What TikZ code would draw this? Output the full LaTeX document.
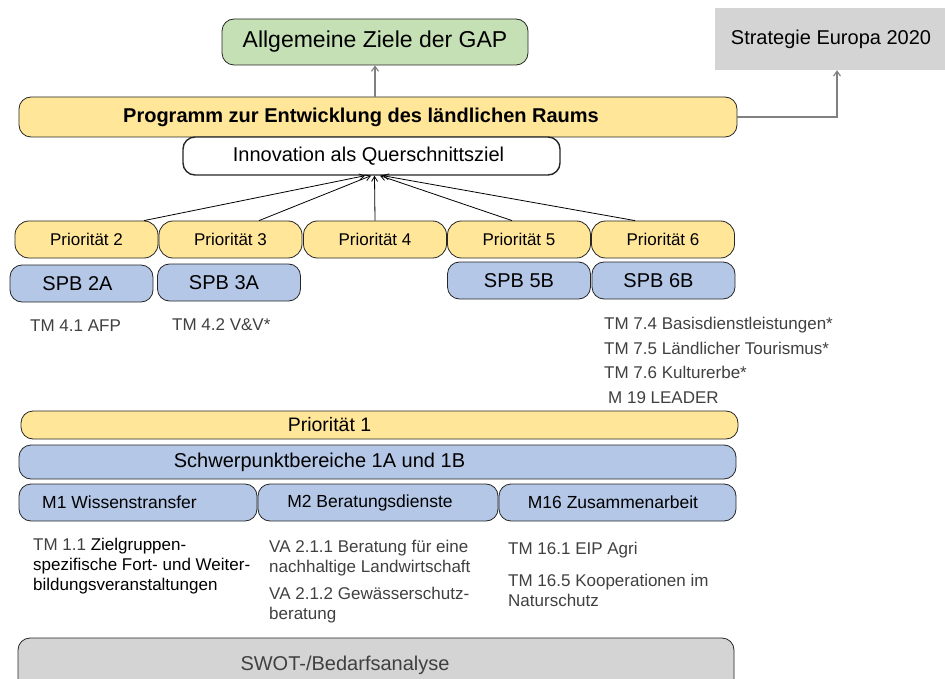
\documentclass[tikz,border=0pt]{standalone}
\usepackage{fontspec}
\setmainfont{Liberation Sans}
\usetikzlibrary{arrows.meta}
\definecolor{gapgreen}{HTML}{C5E0B4}
\definecolor{prioyellow}{HTML}{FFE699}
\definecolor{spbblue}{HTML}{B4C7E7}
\definecolor{swotgray}{HTML}{D4D4D4}
\definecolor{tmgray}{HTML}{404040}
\definecolor{linegray}{HTML}{808080}

\begin{document}
\begin{tikzpicture}[x=1pt,y=-1pt,
		box/.style={draw=black!85,line width=0.8pt,rounded corners=12pt,inner sep=0pt,text=black},
		prio/.style={box,fill=prioyellow,minimum width=143pt,minimum height=37pt,rounded corners=14pt,font=\fontsize{17}{20}\selectfont},
		spb/.style={box,fill=spbblue,minimum width=143pt,minimum height=37pt,font=\fontsize{20}{24}\selectfont},
		massn/.style={box,fill=spbblue,minimum height=37pt,font=\fontsize{17.5}{21}\selectfont},
		tm/.style={anchor=north west,inner sep=0pt,align=left,text=tmgray,font=\fontsize{17}{20}\selectfont},
		pfeil/.style={-{Straight Barb[length=5pt,width=7pt]},line width=1.1pt,linegray},
		zpfeil/.style={-{Straight Barb[length=5pt,width=6pt]},line width=0.8pt,black}]
				\useasboundingbox (0,0) rectangle (945,679);
				\node[box,fill=gapgreen,minimum width=306pt,minimum height=46pt,font=\fontsize{23}{27}\selectfont] (gap) at (375,42) {Allgemeine Ziele der GAP};
				\node[fill=swotgray,inner sep=0pt,minimum width=232pt,minimum height=62pt,font=\fontsize{20}{24}\selectfont] (strat) at (831,39) {Strategie Europa 2020};
				\node[box,fill=prioyellow,minimum width=718pt,minimum height=40pt,font=\bfseries\fontsize{20}{24}\selectfont] (prog) at (378,117) {Programm zur Entwicklung des ländlichen Raums\hspace*{34pt}};
				\node[box,fill=white,line width=1.4pt,minimum width=377pt,minimum height=38pt,font=\fontsize{20}{24}\selectfont] (inno) at (371.5,156) {Innovation als Querschnittsziel\hspace*{6pt}};
				\node[prio] (p2) at (86.5,239.5) {Priorität 2};
				\node[prio] (p3) at (230.5,239.5) {Priorität 3};
				\node[prio] (p4) at (375,239.5) {Priorität 4};
				\node[prio] (p5) at (519,239.5) {Priorität 5};
				\node[prio] (p6) at (663,239.5) {Priorität 6};
				\node[spb] (spb2a) at (81.5,283.5) {SPB 2A\hspace*{8pt}};
				\node[spb] (spb3a) at (229,282.5) {SPB 3A\hspace*{10pt}};
				\node[spb] (spb5b) at (519,280.5) {SPB 5B};
				\node[spb] (spb6b) at (663.5,280.5) {SPB 6B\hspace*{10pt}};
				\node[tm] (tm41) at (30,320) {TM 4.1 AFP};
				\node[tm] (tm42) at (172,318) {TM 4.2 V\&V*};
				\node[tm,font=\fontsize{17}{24.7}\selectfont] (tm7) at (604,317) {TM 7.4 Basisdienstleistungen*\\TM 7.5 Ländlicher Tourismus*\\TM 7.6 Kulturerbe*\\\hspace*{4pt}M 19 LEADER};
				\node[box,fill=prioyellow,minimum width=717pt,minimum height=28pt,font=\fontsize{19.5}{23}\selectfont] (p1) at (379.5,425) {Priorität 1\hspace*{100pt}};
				\node[box,fill=spbblue,minimum width=717pt,minimum height=34pt,font=\fontsize{20}{24}\selectfont] (spb1) at (377.5,462) {Schwerpunktbereiche 1A und 1B\hspace*{116pt}};
				\node[massn,minimum width=238pt] (m1) at (138,502.5) {M1 Wissenstransfer\hspace*{37pt}};
				\node[massn,minimum width=240pt] (m2) at (378,502.5) {M2 Beratungsdienste\hspace*{16pt}};
				\node[massn,minimum width=237pt] (m16) at (617.5,502.5) {M16 Zusammenarbeit\hspace*{9pt}};
				\node[tm,text=black] (tm11) at (33,538) {\textcolor{tmgray}{TM 1.1} Zielgruppen-\\spezifische Fort- und Weiter-\\bildungsveranstaltungen};
				\node[tm] (va21) at (269,540) {VA 2.1.1 Beratung für eine\\nachhaltige Landwirtschaft\\[7pt]VA 2.1.2 Gewässerschutz-\\beratung};
				\node[tm] (tm16) at (508,542) {TM 16.1 EIP Agri\\[12pt]TM 16.5 Kooperationen im\\Naturschutz};
				\node[box,fill=swotgray,minimum width=716pt,minimum height=54pt,text=tmgray,font=\fontsize{20}{24}\selectfont] (swot) at (376,665) {SWOT-/Bedarfsanalyse\hspace*{62pt}};
				\draw[pfeil] (gap.south |- prog.north) -- (gap.south);
				\draw[pfeil] (prog.east) -| ([xshift=6pt]strat.south);
				\draw[zpfeil] ([xshift=57.5pt]p2.north) -- ([xshift=-6.5pt]inno.south);
				\draw[zpfeil] ([xshift=28.5pt]p3.north) -- ([xshift=-0.5pt]inno.south);
				\draw[zpfeil] (p4.north) -- ([xshift=3pt]inno.south);
				\draw[zpfeil] ([xshift=-7pt]p5.north) -- ([xshift=8.5pt]inno.south);
				\draw[zpfeil] ([xshift=-28pt]p6.north) -- ([xshift=11.5pt]inno.south);
			\end{tikzpicture}
\end{document}
